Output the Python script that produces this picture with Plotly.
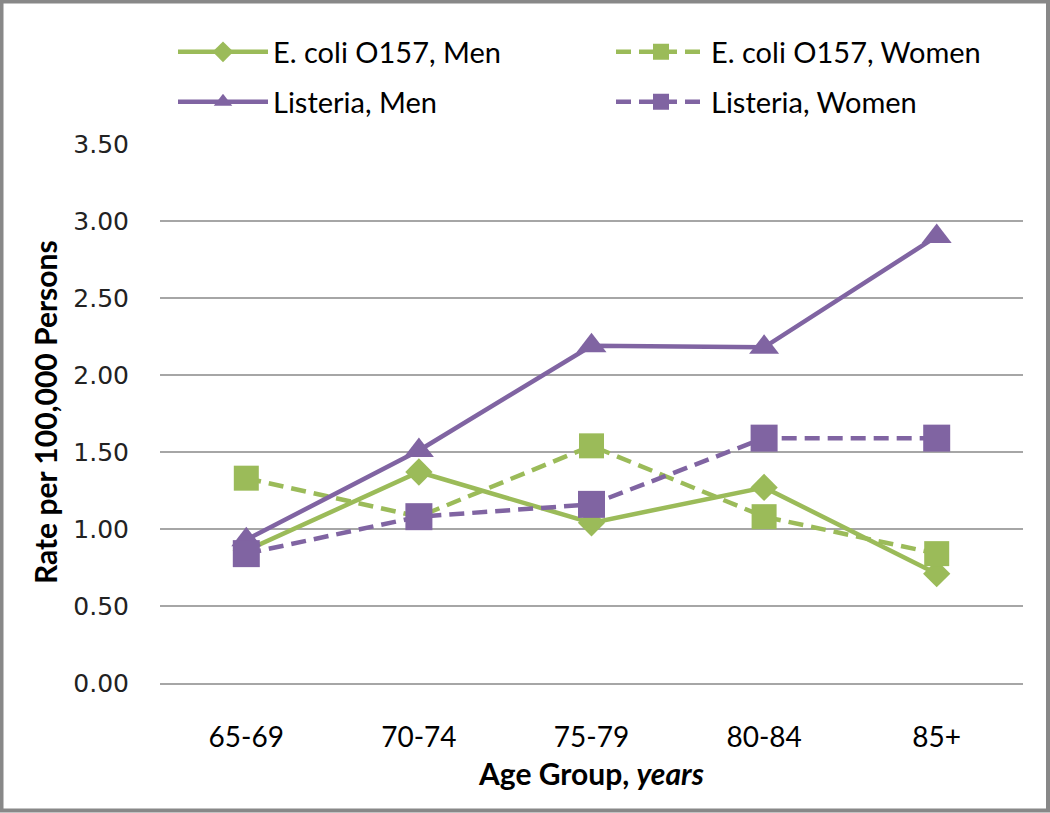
import plotly.graph_objects as go

categories = ["65-69", "70-74", "75-79", "80-84", "85+"]
ecoli_men = [0.86, 1.37, 1.04, 1.27, 0.71]
ecoli_women = [1.33, 1.08, 1.54, 1.08, 0.84]
listeria_men = [0.93, 1.51, 2.19, 2.18, 2.90]
listeria_women = [0.84, 1.08, 1.16, 1.59, 1.59]
y_ticks = [0, 0.5, 1.0, 1.5, 2.0, 2.5, 3.0, 3.5]

GREEN = "#9BBB59"
PURPLE = "#8064A2"
FONT = "Lato, Open Sans, sans-serif"

series = [
    ("E. coli O157, Men", ecoli_men, GREEN, "solid", "diamond", 21, "legend"),
    ("E. coli O157, Women", ecoli_women, GREEN, "15px,8px", "square", 25, "legend2"),
    ("Listeria, Men", listeria_men, PURPLE, "solid", "triangle-up", 26, "legend3"),
    ("Listeria, Women", listeria_women, PURPLE, "15px,8px", "square", 27, "legend4"),
]

fig = go.Figure()
for name, vals, col, dash, sym, size, lg in series:
    fig.add_trace(go.Scatter(
        x=categories, y=vals, name=name, mode="lines+markers",
        line=dict(color=col, width=4.5, dash=dash),
        marker=dict(symbol=sym, size=size, color=col),
        legend=lg, showlegend=True,
    ))

W, H = 1050, 813
L, R, T, B = 160, 27, 144, 130
pw, ph = W - L - R, H - T - B

def px_to_paper(xp, yp):
    return (xp - L) / pw, 1 - (yp - T) / ph

leg_common = dict(bgcolor="rgba(0,0,0,0)", font=dict(family=FONT, size=29, color="#000"),
                  xanchor="left", yanchor="middle", itemwidth=90)
lx1, ly1 = px_to_paper(173, 52)
lx2, ly2 = px_to_paper(611, 102)

fig.update_layout(
    width=W, height=H,
    showlegend=True,
    margin=dict(l=L, r=R, t=T, b=B),
    paper_bgcolor="white", plot_bgcolor="white",
    legend=dict(x=lx1, y=ly1, **leg_common),
    legend2=dict(x=lx2, y=ly1, **leg_common),
    legend3=dict(x=lx1, y=ly2, **leg_common),
    legend4=dict(x=lx2, y=ly2, **leg_common),
    xaxis=dict(type="category", range=[-0.5, 4.5], showgrid=False, showline=True,
               linecolor="#a6a6a6", linewidth=2, ticks="", ticklabelstandoff=28,
               tickfont=dict(family=FONT, size=28, color="#000"), zeroline=False),
    yaxis=dict(range=[0, 3.5], tickvals=y_ticks, tickformat=".2f", showgrid=True,
               gridcolor="#a6a6a6", gridwidth=1.5, showline=False, zeroline=False,
               ticks="", ticklabelstandoff=30,
               tickfont=dict(family="DejaVu Sans", size=25, color="#222")),
    annotations=[
        dict(text="<b>Rate per 100,000 Persons</b>", xref="paper", yref="paper",
             x=px_to_paper(45, 0)[0], y=px_to_paper(0, 412)[1], textangle=-90, showarrow=False,
             font=dict(family=FONT, size=30, color="#000"), xanchor="center", yanchor="middle"),
        dict(text="<b>Age Group, <i>years</i></b>", xref="paper", yref="paper",
             x=px_to_paper(591, 0)[0], y=px_to_paper(0, 773)[1], showarrow=False,
             font=dict(family=FONT, size=30, color="#000"), xanchor="center", yanchor="middle"),
    ],
    shapes=[
        dict(type="rect", xref="paper", yref="paper",
             x0=(1.5 - L) / pw, x1=(W - 2 - L) / pw,
             y0=1 - (H - 2.5 - T) / ph, y1=1 - (1.5 - T) / ph,
             line=dict(color="#888888", width=4), fillcolor="rgba(0,0,0,0)", layer="below"),
    ],
)

fig.write_html("out.html", config={"displayModeBar": False},
               post_script="document.body.style.margin='0px';")
